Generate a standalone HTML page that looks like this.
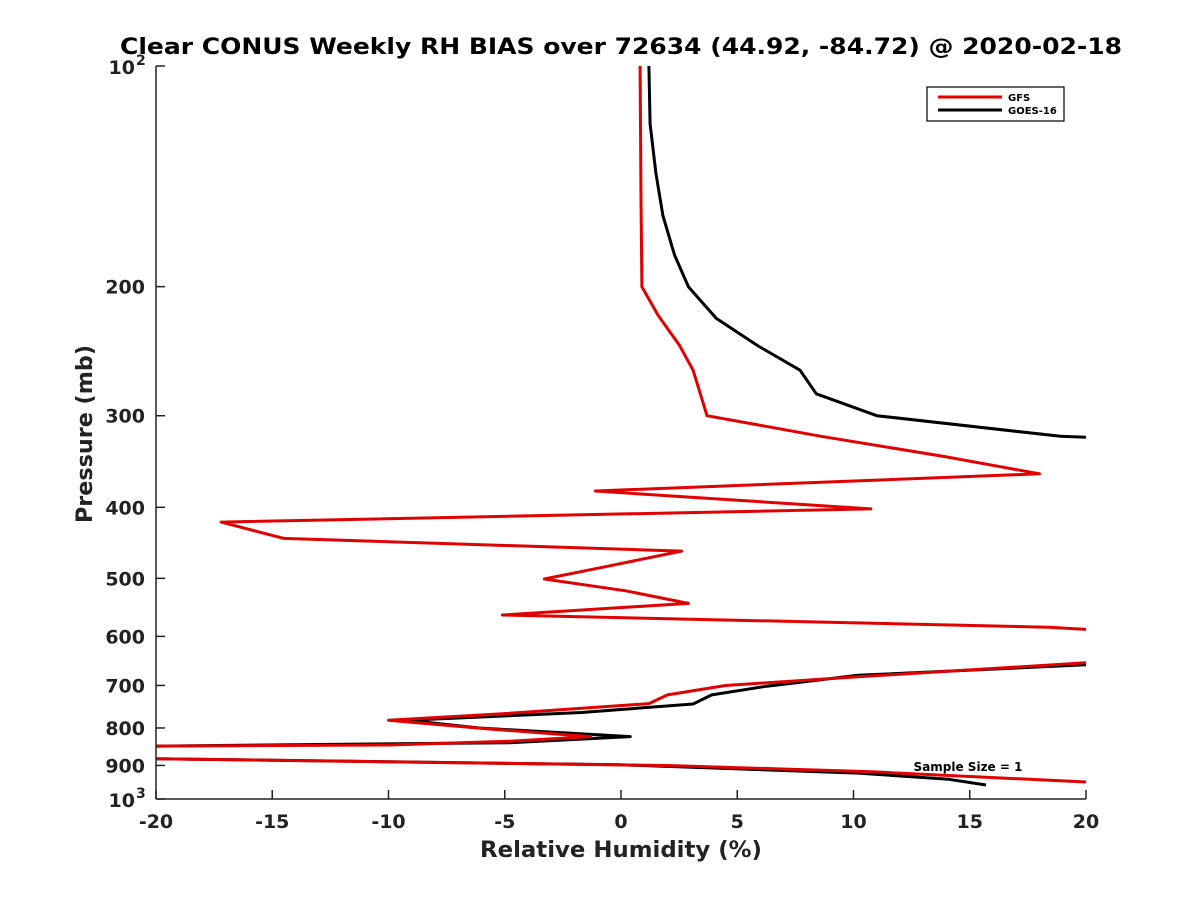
<!DOCTYPE html>
<html><head><meta charset="utf-8"><style>
body{margin:0;background:#fff;}
svg{display:block;font-family:"DejaVu Sans","Liberation Sans",sans-serif;}
</style></head><body>
<svg id="chart" width="1200" height="900" xmlns="http://www.w3.org/2000/svg">
<rect width="1200" height="900" fill="#fff"/>
<text x="621" y="54" text-anchor="middle" font-size="22" font-weight="bold" fill="#000" textLength="1002" lengthAdjust="spacingAndGlyphs">Clear CONUS Weekly RH BIAS over 72634 (44.92, -84.72) @ 2020-02-18</text>
<defs><clipPath id="clip"><rect x="156" y="66" width="930" height="733"/></clipPath></defs>
<g id="series" clip-path="url(#clip)"></g>
<g id="axes"></g>
<text x="621" y="857" text-anchor="middle" font-size="22" font-weight="bold" fill="#222" textLength="282" lengthAdjust="spacingAndGlyphs">Relative Humidity (%)</text>
<text transform="translate(92,434) rotate(-90)" text-anchor="middle" font-size="22" font-weight="bold" fill="#222" textLength="178" lengthAdjust="spacingAndGlyphs">Pressure (mb)</text>
<text x="968" y="771" text-anchor="middle" font-size="12" font-weight="bold" fill="#000">Sample Size = 1</text>
<g>
<rect x="927" y="87" width="137" height="34" fill="#fff" stroke="#000" stroke-width="1.2"/>
<line x1="938" y1="97" x2="1002" y2="97" stroke="#e00000" stroke-width="3"/>
<text x="1008" y="101" font-size="10" font-weight="bold">GFS</text>
<line x1="938" y1="110" x2="1002" y2="110" stroke="#000" stroke-width="3"/>
<text x="1008" y="114" font-size="10" font-weight="bold">GOES-16</text>
</g>
</svg>
<script>
const gfsP = [100,152,200,219,240,260,300,320,341,360,380,402,419,441,459,483,501,520,541,561,583,600,652,681,700,721,741,764,781,802,822,834,844,847,860,881,900,918,948,1000];
const gfsX = [0.82,0.86,0.9,1.6,2.5,3.1,3.7,8.6,13.9,18.0,-1.1,10.75,-17.2,-14.5,2.6,-0.8,-3.3,0.2,2.9,-5.1,18.4,25,20,10.2,4.5,2.0,1.2,-4.8,-10,-5.8,-1.3,-4.8,-10,-20,-30,-20,2,10.8,20,30];
const goesP = [100,120,140,160,181,200,221,241,260,280,300,320,330,640,656,678,703,721,742,762,781,800,822,838,847,860,881,898,922,940,957];
const goesX = [1.2,1.25,1.5,1.8,2.3,2.9,4.1,5.9,7.7,8.4,11.0,18.9,30,30,20,10.2,6.1,3.9,3.1,-1.7,-9.2,-6.1,0.4,-4.8,-20,-30,-20,0,10.2,14.1,15.7];
const xTicks = [-20,-15,-10,-5,0,5,10,15,20];
const yTicks = [100,200,300,400,500,600,700,800,900,1000];
const yTickLabels = ["10|2","200","300","400","500","600","700","800","900","10|3"];

const X0=156,X1=1086,Y0=66,Y1=799;
const xs=v=>X0+(v+20)/40*(X1-X0);
const ys=p=>Y0+(Math.log10(p)-2)*(Y1-Y0);
const NS="http://www.w3.org/2000/svg";
function mk(tag,attrs,parent){const e=document.createElementNS(NS,tag);for(const k in attrs)e.setAttribute(k,attrs[k]);parent.appendChild(e);return e;}
const series=document.getElementById('series');
function line(P,Xv,color,name){
  const d=P.map((p,i)=>(i?'L':'M')+xs(Xv[i]).toFixed(1)+','+ys(p).toFixed(1)).join(' ');
  const el=mk('path',{d:d,fill:'none',stroke:color,'stroke-width':3,'stroke-linejoin':'round'},series);
  
  
}
line(goesP,goesX,'#000','goes-16-line');
line(gfsP,gfsX,'#e00000','gfs-line');
const axes=document.getElementById('axes');
const xa=mk('line',{x1:X0,y1:Y1,x2:X1,y2:Y1,stroke:'#222','stroke-width':1.5},axes);


const ya=mk('line',{x1:X0,y1:Y0,x2:X0,y2:Y1,stroke:'#222','stroke-width':1.5},axes);


xTicks.forEach(v=>{
  const x=xs(v);
  const t=mk('line',{x1:x,y1:Y1,x2:x,y2:Y1-9,stroke:'#222','stroke-width':1.5},axes);
  
  
  const l=mk('text',{x:x,y:828,'text-anchor':'middle','font-size':19,'font-weight':'bold',fill:'#222'},axes);
  l.textContent=String(v);
  
  
});
yTicks.forEach((p,i)=>{
  const y=ys(p);
  const t=mk('line',{x1:X0,y1:y,x2:X0+9,y2:y,stroke:'#222','stroke-width':1.5},axes);
  
  
  const lab=yTickLabels[i];
  if(lab.indexOf('|')>=0){
    const parts=lab.split('|');
    const l=mk('text',{x:135,y:y+8,'text-anchor':'end','font-size':19,'font-weight':'bold',fill:'#222'},axes);
    l.textContent=parts[0];
    
    
    const s=mk('text',{x:136,y:y-1,'font-size':14,'font-weight':'bold',fill:'#222'},axes);
    s.textContent=parts[1];
    
    
  } else {
    const l=mk('text',{x:145,y:y+7,'text-anchor':'end','font-size':19,'font-weight':'bold',fill:'#222'},axes);
    l.textContent=lab;
    
    
  }
});
</script>
</body></html>
